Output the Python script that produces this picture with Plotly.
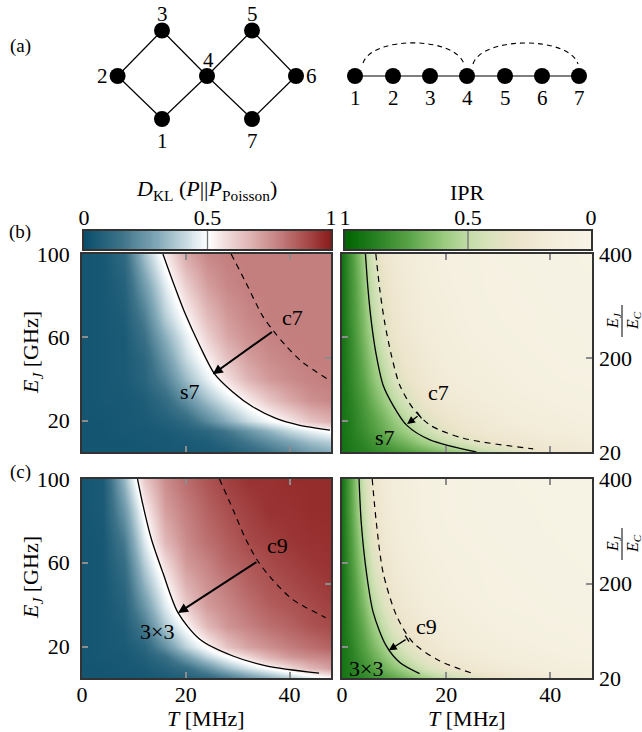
import numpy as np
import plotly.graph_objects as go

W, H = 642, 732
FONT = "Liberation Serif"

# ---------------- data ----------------
T_DKL = [0, 4, 8, 12, 16, 20, 24, 28, 32, 36, 40, 44, 48]
T_IPR = [0, 2, 4, 6, 8, 10, 12, 16, 20, 24, 28, 32, 36, 40, 44, 48]
EJ_ROWS = [5, 10, 15, 20, 30, 40, 50, 60, 70, 85, 100]

DKL_B = [
    [.03, .03, .03, .03, .04, .04, .05, .06, .10, .15, .20, .26, .30],
    [.03, .03, .03, .04, .04, .05, .06, .10, .16, .22, .28, .34, .38],
    [.03, .03, .04, .04, .05, .07, .10, .16, .24, .32, .40, .46, .51],
    [.03, .03, .04, .05, .07, .11, .21, .31, .41, .48, .55, .63, .68],
    [.03, .04, .04, .06, .12, .23, .35, .45, .54, .63, .70, .75, .77],
    [.03, .04, .05, .09, .19, .34, .46, .57, .67, .73, .76, .78, .79],
    [.03, .04, .05, .10, .25, .41, .53, .64, .72, .76, .78, .79, .79],
    [.03, .04, .05, .14, .31, .46, .60, .70, .75, .78, .79, .79, .79],
    [.03, .04, .06, .18, .38, .52, .65, .73, .77, .79, .79, .79, .79],
    [.03, .04, .08, .26, .45, .61, .72, .77, .79, .79, .79, .79, .79],
    [.03, .04, .11, .35, .54, .70, .77, .79, .79, .79, .79, .79, .79],
]
DKL_C = [
    [.03, .03, .03, .04, .05, .07, .10, .16, .24, .31, .37, .44, .50],
    [.03, .03, .04, .05, .08, .13, .23, .34, .43, .50, .58, .66, .72],
    [.03, .04, .04, .07, .13, .26, .39, .49, .58, .67, .73, .76, .78],
    [.03, .04, .05, .09, .23, .39, .51, .63, .71, .75, .79, .82, .85],
    [.03, .04, .06, .17, .37, .51, .66, .74, .78, .82, .85, .88, .90],
    [.03, .04, .08, .25, .45, .62, .73, .77, .82, .86, .88, .90, .92],
    [.03, .04, .10, .32, .51, .68, .75, .80, .85, .88, .90, .92, .94],
    [.03, .04, .13, .38, .58, .73, .78, .84, .87, .90, .92, .94, .95],
    [.03, .04, .17, .44, .66, .76, .82, .86, .90, .92, .94, .95, .955],
    [.03, .05, .25, .52, .72, .79, .85, .89, .92, .95, .95, .96, .96],
    [.03, .05, .33, .62, .76, .83, .88, .92, .95, .95, .96, .96, .96],
]
IPR_B = [
    [.93, .90, .88, .85, .83, .80, .77, .71, .64, .57, .49, .41, .33, .27, .23, .20],
    [.93, .89, .86, .81, .77, .72, .68, .58, .49, .40, .32, .27, .24, .21, .19, .17],
    [.93, .88, .83, .77, .71, .65, .59, .47, .36, .28, .23, .21, .18, .15, .14, .13],
    [.93, .88, .81, .75, .68, .61, .54, .40, .30, .24, .21, .17, .15, .14, .12, .11],
    [.93, .86, .78, .69, .60, .51, .42, .29, .22, .19, .15, .13, .12, .10, .09, .08],
    [.93, .84, .74, .63, .53, .41, .33, .23, .18, .14, .13, .11, .09, .08, .07, .07],
    [.93, .83, .71, .59, .47, .36, .28, .21, .15, .13, .11, .09, .08, .07, .06, .06],
    [.93, .82, .68, .55, .40, .30, .24, .18, .14, .11, .09, .08, .07, .06, .06, .05],
    [.93, .80, .66, .51, .37, .28, .22, .16, .13, .10, .08, .07, .07, .06, .05, .05],
    [.93, .79, .63, .46, .32, .24, .20, .14, .11, .09, .07, .07, .06, .05, .05, .05],
    [.93, .77, .59, .41, .28, .22, .18, .13, .10, .08, .07, .06, .05, .05, .05, .04],
]
IPR_C = [
    [.93, .89, .86, .82, .77, .73, .68, .59, .50, .41, .33, .28, .24, .20, .17, .14],
    [.93, .88, .82, .76, .69, .63, .57, .43, .32, .26, .22, .19, .16, .14, .13, .12],
    [.93, .87, .79, .71, .63, .55, .47, .33, .24, .21, .17, .14, .13, .12, .10, .09],
    [.93, .86, .76, .67, .58, .48, .39, .27, .21, .17, .14, .12, .11, .09, .08, .07],
    [.93, .83, .72, .60, .48, .37, .29, .21, .16, .13, .11, .09, .08, .07, .07, .06],
    [.93, .81, .67, .53, .39, .29, .23, .17, .13, .11, .08, .07, .07, .06, .05, .05],
    [.93, .79, .63, .46, .32, .24, .20, .14, .11, .09, .07, .07, .06, .05, .05, .05],
    [.93, .77, .59, .40, .28, .22, .17, .13, .10, .08, .07, .06, .05, .05, .05, .04],
    [.93, .75, .55, .35, .24, .19, .15, .11, .08, .07, .06, .05, .05, .05, .04, .04],
    [.93, .72, .49, .30, .22, .16, .14, .09, .07, .06, .05, .05, .05, .04, .04, .04],
    [.93, .71, .46, .28, .20, .15, .13, .09, .07, .06, .05, .05, .04, .04, .04, .04],
]

# contour lines (T [MHz], E_J [GHz])
BL_S_T = [15.6, 17.6, 19.8, 22.7, 25.55, 29.06, 32.9, 37.4, 41.8, 47.8]
BL_S_E = [100, 86.2, 71.9, 56, 42.5, 33.8, 26.7, 21.1, 17.9, 15.5]
BL_C_T = [28.75, 31.6, 34.8, 36.9, 39.3, 42.5, 47.8]
BL_C_E = [100, 86.2, 70.3, 63.1, 56, 48.1, 39.3]
BR_S_T = [4.5, 5.0, 5.65, 6.6, 7.9, 9.8, 12.4, 16.9, 25.8]
BR_S_E = [100, 83, 67.1, 51.2, 37, 27.4, 17.9, 10.8, 5.0]
BR_C_T = [6.5, 7.25, 8.2, 9.5, 11.1, 13.65, 16.9, 23.3, 36.7]
BR_C_E = [100, 83, 67.1, 51.2, 37, 25.9, 17.9, 11.6, 6.5]
CL_S_T = [10.7, 11.8, 13.4, 15.6, 18.5, 22.7, 29.1, 35.5, 45.7]
CL_S_E = [100, 87, 71.1, 55.2, 36.2, 23.5, 15.5, 10.8, 7.3]
CL_C_T = [26.5, 29.1, 31.6, 33.9, 36.7, 40.6, 47]
CL_C_E = [100, 85.4, 71.1, 60.8, 52, 42.5, 33.8]
CR_S_T = [3.27, 3.7, 4.7, 6.0, 8.5, 11.1, 14.9]
CR_S_E = [100, 79, 55.2, 36.2, 20.3, 12.4, 7.1]
CR_C_T = [5.8, 6.6, 7.9, 10.5, 13.65, 18.8, 25.2]
CR_C_E = [100, 79, 55.2, 34.6, 21.9, 13.1, 7.1]

# arrows (tail T, tail E, head T, head E) and labels
ARROWS = {"bL": (36.9, 63.1, 25.2, 42.3), "bR": (14.8, 22.7, 12.5, 18.4),
          "cL": (33.9, 60.8, 18.5, 36.0), "cR": (12.5, 23.8, 9.0, 18.2)}
LABELS = {"bL": [("c7", 40.6, 69.5), ("s7", 20.9, 33.8)],
          "bR": [("c7", 18.5, 33.5), ("s7", 8.2, 12.0)],
          "cL": [("c9", 37.7, 68.2), ("3×3", 14.4, 27.0)],
          "cR": [("c9", 16.2, 29.8), ("3×3", 4.7, 9.5)]}

X_TICKS = [0, 20, 40]
Y_TICKS = [20, 60, 100]
R_TICKS = [20, 200, 400]
CB_TICKS = [0, 0.5, 1]

# graph sketch (a): node positions in pixels
G1_X = [162, 117.6, 162, 207, 252, 296, 252]
G1_Y = [119, 76, 30.5, 76, 30.5, 76, 119]
G1_EDGES = [(1, 2), (2, 3), (3, 4), (4, 1), (4, 5), (5, 6), (6, 7), (7, 4)]
G1_LAB = [("1", 162, 141), ("2", 102, 76), ("3", 162, 14), ("4", 208, 60),
          ("5", 252, 14), ("6", 311, 76), ("7", 252, 141)]
G2_X = [355, 393, 430, 467, 505, 542, 579]
G2_Y = 76

# ---------------- styles ----------------
DKL_CS = [[0, '#0a4e6c'], [0.15, '#3d7389'], [0.3, '#84aab9'], [0.45, '#e1ecf0'],
          [0.5, '#ffffff'], [0.55, '#f6e6e6'], [0.7, '#d9a7a7'], [0.85, '#b56262'],
          [1, '#8b1a1a']]
IPR_CS = [[0, '#f8f5e7'], [0.15, '#f3eddb'], [0.3, '#ede4cb'], [0.42, '#d8e2bb'],
          [0.5, '#c3dca8'], [0.6, '#9acb7f'], [0.75, '#56a144'], [0.9, '#1f7a1c'],
          [1, '#006400']]

def xp(p):
    return p / W

def yp(p):
    return 1 - p / H

XL = [xp(82), xp(331)]
XR = [xp(342), xp(592)]
YB = [yp(452), yp(254)]
YC = [yp(678), yp(479)]

fig = go.Figure()
TICKF = dict(family=FONT, size=22, color='black')
GREY = '#8c8c8c'
FRAME = '#333333'

panels = {
    "bL": (1, 1, 5, XL, YB, False, True, DKL_B, T_DKL, DKL_CS,
           (BL_S_T, BL_S_E, BL_C_T, BL_C_E)),
    "bR": (2, 2, 6, XR, YB, False, False, IPR_B, T_IPR, IPR_CS,
           (BR_S_T, BR_S_E, BR_C_T, BR_C_E)),
    "cL": (3, 3, 7, XL, YC, True, True, DKL_C, T_DKL, DKL_CS,
           (CL_S_T, CL_S_E, CL_C_T, CL_C_E)),
    "cR": (4, 4, 8, XR, YC, True, False, IPR_C, T_IPR, IPR_CS,
           (CR_S_T, CR_S_E, CR_C_T, CR_C_E)),
}

def ax(i, prefix):
    return prefix if i == 1 else f"{prefix}{i}"

annotations = []
shapes = []
layout = {}
for key, (xi, yi, si, xd, yd, xlab, left, z, tg, cs, cont) in panels.items():
    xn, yn, sn = ax(xi, 'x'), ax(yi, 'y'), ax(si, 'y')
    fig.add_trace(go.Heatmap(x=tg, y=EJ_ROWS, z=z, colorscale=cs, zmin=0, zmax=1,
                             zsmooth='best', showscale=False, xaxis=xn, yaxis=yn,
                             hoverinfo='skip'))
    st, se, ct, ce = cont
    fig.add_trace(go.Scatter(x=st, y=se, mode='lines',
                             line=dict(color='black', width=1.3, shape='spline', smoothing=0.8),
                             xaxis=xn, yaxis=yn, showlegend=False, hoverinfo='skip'))
    fig.add_trace(go.Scatter(x=ct, y=ce, mode='lines',
                             line=dict(color='black', width=1.2, dash='6px,5px',
                                       shape='spline', smoothing=0.8),
                             xaxis=xn, yaxis=yn, showlegend=False, hoverinfo='skip'))
    fig.add_trace(go.Scatter(x=[None], y=[None], xaxis=xn, yaxis=sn, showlegend=False,
                             hoverinfo='skip'))
    layout[ax(xi, 'xaxis')] = dict(
        domain=xd, range=[0, 48], tickvals=X_TICKS, ticks='inside', ticklen=6,
        tickwidth=1.5, tickcolor=GREY, showline=True, linecolor=FRAME, linewidth=1.5,
        mirror='ticks', showgrid=False, zeroline=False, showticklabels=xlab,
        tickfont=TICKF, anchor=yn, ticklabelstandoff=-4, automargin=False)
    layout[ax(yi, 'yaxis')] = dict(
        domain=yd, range=[5, 100], tickvals=Y_TICKS, ticks='inside', ticklen=6,
        tickwidth=1.5, tickcolor=GREY, showline=True, linecolor=FRAME, linewidth=1.5,
        mirror=True, showgrid=False, zeroline=False, showticklabels=left,
        tickfont=TICKF, anchor=xn, ticklabelstandoff=6, automargin=False)
    layout[ax(si, 'yaxis')] = dict(
        overlaying=yn, side='right', anchor=xn, range=[20, 400], tickvals=R_TICKS,
        ticks='inside', ticklen=6, tickwidth=1.5, tickcolor=GREY, showline=False,
        showgrid=False, zeroline=False, showticklabels=not left, tickfont=TICKF,
        ticklabelstandoff=6, automargin=False)
    tt, te, ht, he = ARROWS[key]
    thick = 2.0 if left else 1.3
    annotations.append(dict(x=ht, y=he, ax=tt, ay=te, xref=xn, yref=yn, axref=xn,
                            ayref=yn, text='', showarrow=True, arrowhead=2,
                            arrowsize=1.0 if left else 1.2, arrowwidth=thick,
                            arrowcolor='black', standoff=0, startstandoff=0))
    for txt, lt, le in LABELS[key]:
        annotations.append(dict(x=lt, y=le, xref=xn, yref=yn, text=txt, showarrow=False,
                                font=dict(family=FONT, size=22, color='black')))

TAIL_BARS = {"bR": (15.27, 21.1, 14.35, 24.2), "cR": (12.87, 22.4, 12.14, 25.2)}
for key, (a, b, c, d) in TAIL_BARS.items():
    xi, yi = panels[key][0], panels[key][1]
    shapes.append(dict(type='line', xref=ax(xi, 'x'), yref=ax(yi, 'y'), x0=a, y0=b,
                       x1=c, y1=d, line=dict(color='black', width=1.3)))

# ---------------- colour bars ----------------
CB = np.linspace(0, 1, 256)
for xi, yi, dom, cs, rng in [(5, 9, [xp(84), xp(331)], DKL_CS, [0, 1]),
                             (6, 10, [xp(345), xp(591)], IPR_CS, [1, 0])]:
    xn, yn = ax(xi, 'x'), ax(yi, 'y')
    fig.add_trace(go.Heatmap(x=CB, y=[0], z=[CB], colorscale=cs, zmin=0, zmax=1,
                             zsmooth='best', showscale=False, xaxis=xn, yaxis=yn,
                             hoverinfo='skip'))
    layout[ax(xi, 'xaxis')] = dict(
        domain=dom, range=rng, side='top', tickvals=CB_TICKS, ticktext=['0', '0.5', '1'],
        ticks='', showline=True, linecolor=FRAME, linewidth=1.5, mirror=True,
        showgrid=False, zeroline=False, tickfont=TICKF, anchor=yn, ticklabelstandoff=-5,
        automargin=False)
    layout[ax(yi, 'yaxis')] = dict(
        domain=[yp(249), yp(231)], range=[-0.5, 0.5], showticklabels=False, ticks='',
        showline=True, linecolor=FRAME, linewidth=1.5, mirror=True, showgrid=False,
        zeroline=False, anchor=xn, automargin=False)
    shapes.append(dict(type='line', xref=xn, yref=yn, x0=0.5, x1=0.5, y0=-0.5, y1=0.5,
                       line=dict(color='#777777', width=1.3)))

# ---------------- graph sketch (a) ----------------
GX, GY = 'x7', 'y11'
layout['xaxis7'] = dict(domain=[0, 1], range=[0, W], visible=False, anchor=GY,
                        automargin=False)
layout['yaxis11'] = dict(domain=[yp(165), 1], range=[165, 0], visible=False, anchor=GX,
                         automargin=False)
ex, ey = [], []
for a, b in G1_EDGES:
    ex += [G1_X[a - 1], G1_X[b - 1], None]
    ey += [G1_Y[a - 1], G1_Y[b - 1], None]
fig.add_trace(go.Scatter(x=ex, y=ey, mode='lines', line=dict(color='black', width=1.2),
                         xaxis=GX, yaxis=GY, showlegend=False, hoverinfo='skip'))
fig.add_trace(go.Scatter(x=[G2_X[0], G2_X[-1]], y=[G2_Y, G2_Y], mode='lines',
                         line=dict(color='black', width=1.2), xaxis=GX, yaxis=GY,
                         showlegend=False, hoverinfo='skip'))
fig.add_trace(go.Scatter(x=G1_X + G2_X, y=G1_Y + [G2_Y] * len(G2_X), mode='markers',
                         marker=dict(color='black', size=16), xaxis=GX, yaxis=GY,
                         showlegend=False, hoverinfo='skip'))
for p in ["M 363,63 C 372,36 455,36 464,64", "M 473,64 C 482,36 569,36 578,64"]:
    shapes.append(dict(type='path', xref=GX, yref=GY, path=p,
                       line=dict(color='black', width=1.1, dash='5px,4px')))
GF = dict(family=FONT, size=21, color='black')
for t, lx, ly in G1_LAB:
    annotations.append(dict(x=lx, y=ly, xref=GX, yref=GY, text=t, showarrow=False, font=GF))
for i, gx in enumerate(G2_X):
    annotations.append(dict(x=gx, y=98, xref=GX, yref=GY, text=str(i + 1),
                            showarrow=False, font=GF))

# ---------------- free text ----------------
def ptext(t, x, y, size=22, angle=0):
    annotations.append(dict(x=xp(x), y=yp(y), xref='paper', yref='paper', text=t,
                            xanchor='center', yanchor='middle',
                            showarrow=False, textangle=angle,
                            font=dict(family=FONT, size=size, color='black')))

ptext("(a)", 20, 46, 19)
ptext("(b)", 20, 232, 19)
ptext("(c)", 20, 472, 19)
ptext("<i>D</i><sub>KL</sub> (<i>P</i>||<i>P</i><sub>Poisson</sub>)", 206, 190, 22)
ptext("IPR", 467, 192, 22)
ptext("<i>E<sub>J</sub></i> [GHz]", 32, 353, 22, -90)
ptext("<i>E<sub>J</sub></i> [GHz]", 32, 578, 22, -90)
ptext("<i>T</i> [MHz]", 206, 718, 22)
ptext("<i>T</i> [MHz]", 467, 718, 22)
for yc in (321, 544):
    ptext("<i>E<sub>J</sub></i>", 613, yc, 16, -90)
    ptext("<i>E<sub>C</sub></i>", 633, yc, 16, -90)
    shapes.append(dict(type='line', xref='paper', yref='paper', x0=xp(622), x1=xp(622),
                       y0=yp(yc - 16), y1=yp(yc + 16), line=dict(color='black', width=1)))

fig.update_layout(**layout)
fig.update_layout(width=W, height=H, margin=dict(l=0, r=0, t=0, b=0, autoexpand=False),
                  paper_bgcolor='white', plot_bgcolor='white', showlegend=False,
                  annotations=annotations, shapes=shapes,
                  font=dict(family=FONT, color='black'))
fig.write_html("out.html")
